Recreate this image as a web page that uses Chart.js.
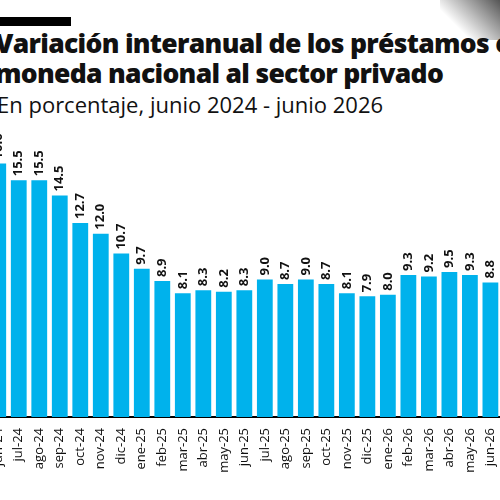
<!DOCTYPE html>
<html>
<head>
<meta charset="utf-8">
<script src="https://cdn.jsdelivr.net/npm/chart.js@4"></script>
<style>
  html, body { margin: 0; width: 500px; height: 500px; overflow: hidden; background: #fff; font-family: "Open Sans", sans-serif; }
  .bar { position: absolute; left: 0; top: 17px; width: 71px; height: 9px; background: #000; }
  .title { position: absolute; left: -5px; top: 28px; font-size: 26.5px; font-weight: 800; line-height: 30px; letter-spacing: -0.7px; color: #111; white-space: nowrap; }
  .sub { position: absolute; left: -3px; top: 89px; font-size: 22px; color: #111; white-space: nowrap; }
  .corner { position: absolute; right: 0; top: 0; width: 60px; height: 40px; background: linear-gradient(225deg, #555 0%, #aaa 35%, rgba(255,255,255,0) 70%); }
  #wrap { position: absolute; left: -12px; top: 0; width: 521px; height: 500px; }
</style>
</head>
<body>
<div class="bar"></div>
<div class="corner"></div>
<div class="title">Variación interanual de los préstamos en<br>moneda nacional al sector privado</div>
<div class="sub">En porcentaje, junio 2024 - junio 2026</div>
<div id="wrap"><canvas id="chart"></canvas></div>
<script>
const months = ['jun-24','jul-24','ago-24','sep-24','oct-24','nov-24','dic-24','ene-25','feb-25','mar-25','abr-25','may-25','jun-25',
  'jul-25','ago-25','sep-25','oct-25','nov-25','dic-25','ene-26','feb-26','mar-26','abr-26','may-26','jun-26'];
const values = [16.6, 15.5, 15.5, 14.5, 12.7, 12.0, 10.7, 9.7, 8.9, 8.1, 8.3, 8.2, 8.3,
  9.0, 8.7, 9.0, 8.7, 8.1, 7.9, 8.0, 9.3, 9.2, 9.5, 9.3, 8.8];

const barLabels = {
  id: 'barLabels',
  afterDatasetsDraw(chart) {
    const ctx = chart.ctx;
    chart.getDatasetMeta(0).data.forEach((bar, i) => {
      ctx.save();
      ctx.translate(bar.x, bar.y - 4);
      ctx.rotate(-Math.PI / 2);
      ctx.font = 'bold 13px "Open Sans"';
      ctx.fillStyle = '#111';
      ctx.textAlign = 'left';
      ctx.textBaseline = 'middle';
      ctx.fillText(values[i].toFixed(1), 0, 0);
      ctx.restore();
    });
  }
};

new Chart(document.getElementById('chart'), {
  type: 'bar',
  data: {
    labels: months,
    datasets: [{ data: values, backgroundColor: '#00b2ec', barPercentage: 0.77, categoryPercentage: 1 }],
  },
  options: {
    responsive: true, maintainAspectRatio: false, animation: false,
    layout: { padding: 0 },
    plugins: { legend: { display: false }, tooltip: { enabled: false } },
    scales: {
      y: { display: false, min: 0, max: 27.3, afterFit: s => { s.width = 0; } },
      x: {
        grid: { display: false },
        border: { color: '#000', width: 2 },
        ticks: { color: '#111', font: { size: 13, family: 'Open Sans' }, minRotation: 90, maxRotation: 90, padding: 3 },
        afterFit: s => { s.height = 83; },
      },
    },
  },
  plugins: [barLabels],
});
</script>
</body>
</html>
